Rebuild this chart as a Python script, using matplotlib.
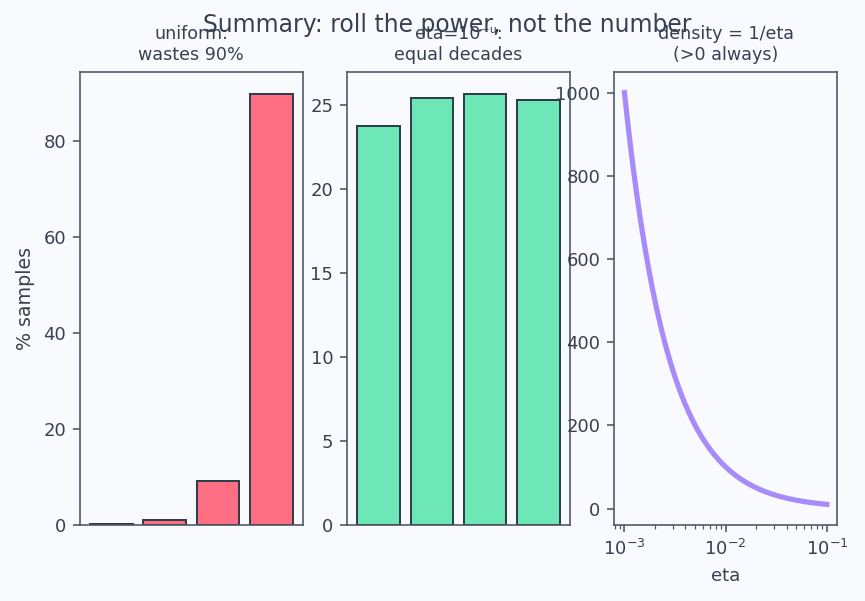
import matplotlib
matplotlib.use("Agg")
import matplotlib.pyplot as plt
import numpy as np

# data
decades = ["1e-4..1e-3", "1e-3..1e-2", "1e-2..1e-1", "1e-1..1"]
uniform_pct = [0.1, 1.0, 9.1, 89.8]
logu_pct = [23.7, 25.4, 25.65, 25.25]
eta_grid = np.logspace(-3, -1, 200)
density = 1.0 / eta_grid

BG = "#f9fafe"
TEXT = "#374151"
SPINE = "#4b5563"
EDGE = "#2f3e4e"

plt.rcParams.update({
    "font.family": "DejaVu Sans",
    "figure.facecolor": BG,
    "axes.facecolor": BG,
    "axes.edgecolor": SPINE,
    "axes.labelcolor": TEXT,
    "xtick.color": SPINE,
    "ytick.color": SPINE,
    "xtick.labelcolor": TEXT,
    "ytick.labelcolor": TEXT,
    "text.color": TEXT,
    "xtick.labelsize": 9,
    "ytick.labelsize": 9,
    "axes.labelsize": 9,
})

fig, axes = plt.subplots(1, 3, figsize=(865 / 144, 601 / 144), dpi=144)
fig.subplots_adjust(left=0.0925, right=0.9676, bottom=0.1265, top=0.88, wspace=0.2)

x = np.arange(len(decades))

ax = axes[0]
ax.bar(x, uniform_pct, width=0.8, color="#ff6f83", edgecolor=EDGE, linewidth=1.0)
ax.set_xticks([])
ax.set_ylabel("% samples", fontsize=9.5)
ax.set_title("uniform:\nwastes 90%", fontsize=8.75)

ax = axes[1]
ax.bar(x, logu_pct, width=0.8, color="#6ee7b7", edgecolor=EDGE, linewidth=1.0)
ax.set_xticks([])
ax.set_title("eta=10\u207b\u1d58:\nequal decades", fontsize=8.75)

ax = axes[2]
ax.plot(eta_grid, density, color="#a78bfa", linewidth=2.6)
ax.set_xscale("log")
ax.set_xlabel("eta")
ax.set_title("density = 1/eta\n(>0 always)", fontsize=8.75)

fig.suptitle("Summary: roll the power, not the number", fontsize=11.75,
             color=TEXT, x=0.517, y=0.979)

fig.savefig("out.png", dpi=144, facecolor=BG)
